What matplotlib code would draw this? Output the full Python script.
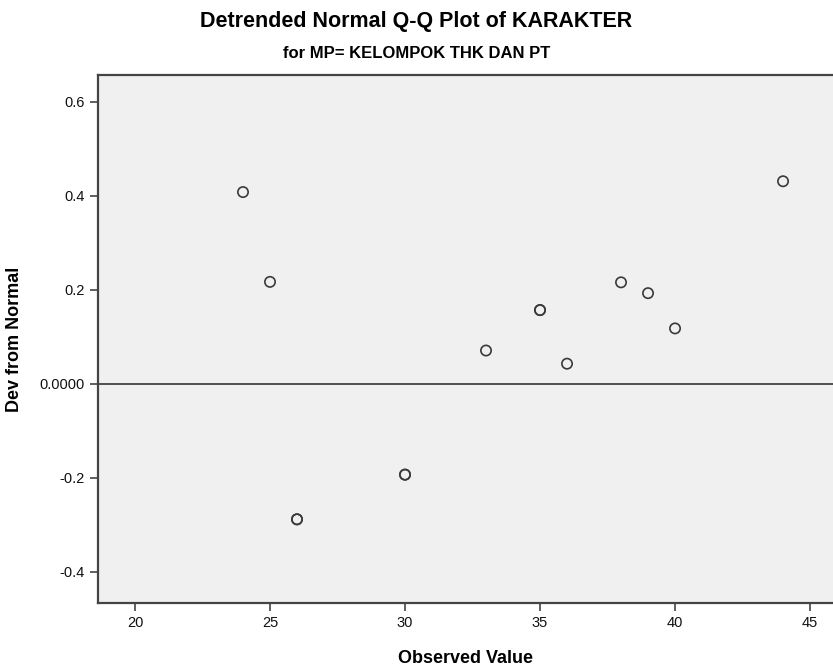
import numpy as np
import matplotlib
matplotlib.use("Agg")
import matplotlib.pyplot as plt

plt.rcParams['font.family'] = ['Liberation Sans', 'DejaVu Sans']

# observed values and deviation from normal (duplicates are repeated)
observed = [24, 25, 26, 26, 30, 30, 33, 35, 35, 36, 38, 39, 40, 44]
dev = [0.408, 0.217, -0.288, -0.288, -0.193, -0.193, 0.071, 0.157, 0.157,
       0.043, 0.216, 0.193, 0.118, 0.431]

yticks = [-0.4, -0.2, 0.0, 0.2, 0.4, 0.6]
ytick_labels = ['-0.4', '-0.2', '0.0000', '0.2', '0.4', '0.6']
xticks = [20, 25, 30, 35, 40, 45]

fig = plt.figure(figsize=(8.33, 6.66), dpi=100)
ax = fig.add_axes([98 / 833, 63 / 666, 1 - 98 / 833, (603 - 75) / 666])
ax.set_facecolor('#f0f0f0')

# zero reference line
ax.axhline(0, color='#333333', lw=1.2, zorder=1)

ax.scatter(observed, dev, s=55, facecolors='none', edgecolors='#3a3a3a',
           linewidths=1.2, zorder=3)

ax.set_xlim(18.63, 45.85)
ax.set_ylim(-0.466, 0.657)
ax.set_xticks(xticks)
ax.set_yticks(yticks)
ax.set_yticklabels(ytick_labels)

for s in ['left', 'bottom', 'top']:
    ax.spines[s].set_color('#444444')
    ax.spines[s].set_linewidth(1.6)
ax.spines['right'].set_visible(False)
ax.tick_params(direction='out', length=6, width=1.2, color='#444444',
               labelsize=10.5, labelcolor='#111111')

ax.set_xlabel('Observed Value', fontsize=13, fontweight='bold', labelpad=14)
ax.set_ylabel('Dev from Normal', fontsize=13, fontweight='bold', labelpad=12)

fig.text(0.5, 1 - 22 / 666, 'Detrended Normal Q-Q Plot of KARAKTER',
         ha='center', va='center', fontsize=15.5, fontweight='bold')
fig.text(0.5, 1 - 53 / 666, 'for MP= KELOMPOK THK DAN PT',
         ha='center', va='center', fontsize=12, fontweight='bold')

fig.savefig('out.png', dpi=100)
